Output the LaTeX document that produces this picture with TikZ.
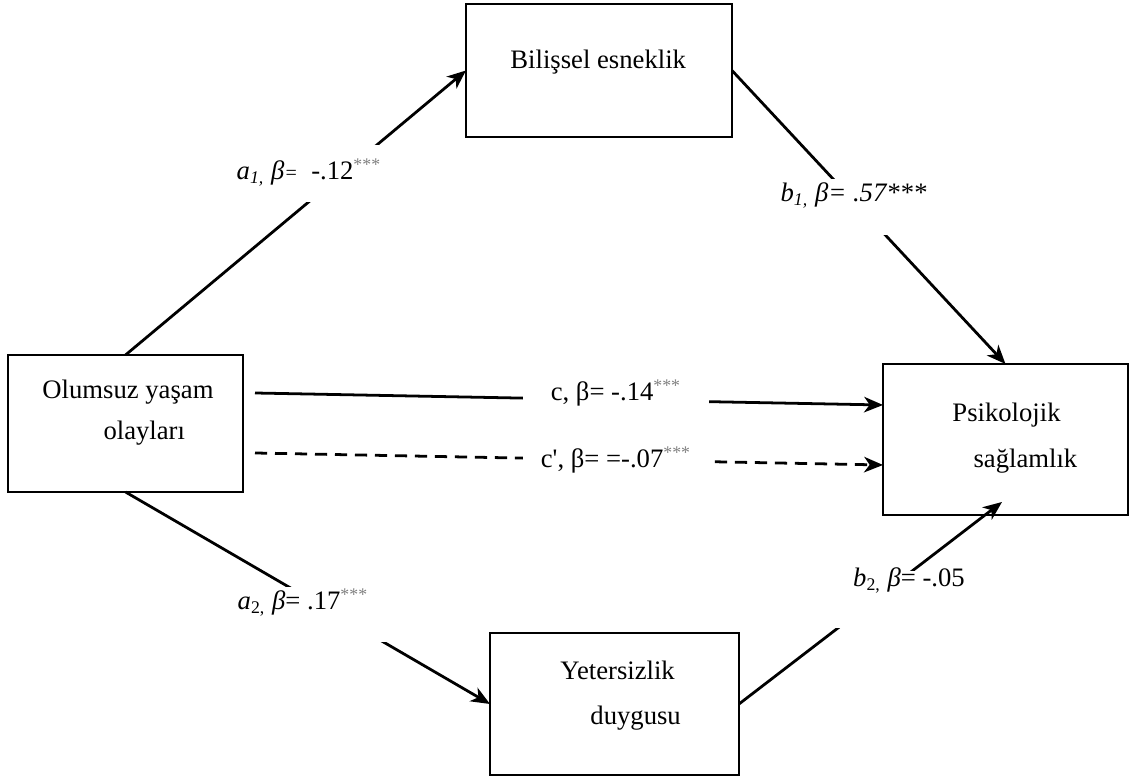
\documentclass[tikz,border=0pt]{standalone}
\usepackage{fontspec}
\setmainfont{Liberation Serif}
\usetikzlibrary{arrows.meta}

\begin{document}
\begin{tikzpicture}[
  x=0.45pt, y=-0.45pt,
  font=\fontsize{12}{14.4}\selectfont,
  box/.style={draw, line width=0.75pt, inner sep=0pt, outer sep=0pt},
  boxtext/.style={align=left, anchor=base west, inner sep=0pt},
  flow/.style={-{Stealth[length=8.5pt,width=7pt,inset=2.5pt]}, line width=1.25pt},
  dashflow/.style={flow, dash pattern=on 5.5pt off 3.5pt},
  coef/.style={fill=white, inner sep=0pt, anchor=base}]

\useasboundingbox (0,0) rectangle (1129,781);

% Position the boxes of the model
\node[box, minimum width=105.75pt, minimum height=61.65pt] (olumsuzYasam) at (125.5,423.5) {};
\node[box, minimum width=119.7pt, minimum height=59.85pt] (bilisselEsneklik) at (599,70.5) {};
\node[box, minimum width=110.25pt, minimum height=67.95pt] (psikolojikSaglamlik) at (1005.5,439.5) {};
\node[box, minimum width=112.05pt, minimum height=63.9pt] (yetersizlikDuygusu) at (614.5,704) {};

% texts sit on the baseline of their last line
\node[boxtext] (olumsuzYasamText) at (42,440) {Olumsuz yaşam\\[4.4pt]\hspace*{27.5pt}olayları};
\node[boxtext] (bilisselEsneklikText) at (510,69) {Bilişsel esneklik};
\node[boxtext] (psikolojikSaglamlikText) at (952,468) {Psikolojik\\[6.4pt]\hspace*{9.5pt}sağlamlık};
\node[boxtext] (yetersizlikDuygusuText) at (560,725) {Yetersizlik\\[5.9pt]\hspace*{13.5pt}duygusu};

% Draw the paths between the boxes
\draw [flow] (olumsuzYasam.north) -- (bilisselEsneklik.west);
\draw [flow] (bilisselEsneklik.east) -- (psikolojikSaglamlik.north);
\draw [flow] (olumsuzYasam.south) -- (yetersizlikDuygusu.west);
\draw [flow] (yetersizlikDuygusu.east) -- ([shift={(-3.5,-13)}]psikolojikSaglamlik.south);
\draw [flow] ([shift={(12,-30.5)}]olumsuzYasam.east) -- ([shift={(0,-34.5)}]psikolojikSaglamlik.west);
\draw [dashflow] ([shift={(12,29.5)}]olumsuzYasam.east) -- ([shift={(0,25.5)}]psikolojikSaglamlik.west);

% Coefficients, on white boxes over the paths
\node[coef, text height=15.75pt, text depth=9.9pt, minimum width=67.5pt] (coefA1) at (309,180)
  {\textit{a\textsubscript{1,} β{\small =}}\ \ -.12\textsuperscript{\textcolor{gray}{***}}};
\node[coef, text height=10.35pt, text depth=14.85pt, minimum width=70pt] (coefB1) at (853.5,202)
  {\textit{b\textsubscript{1,} β= .57***}};
\node[coef, text height=10.35pt, text depth=14.4pt, minimum width=79pt] (coefA2) at (303,610)
  {\textit{a}\textsubscript{2,} \textit{β}= .17\textsuperscript{\textcolor{gray}{***}}};
\node[coef, text height=7.2pt, text depth=18.45pt, minimum width=72pt] (coefB2) at (909,587)
  {\textit{b}\textsubscript{2,} \textit{β}= -.05};
\node[coef, text height=8pt, text depth=5pt, minimum width=83.7pt] (coefC) at (616,401)
  {c, β= -.14\textsuperscript{\textcolor{gray}{***}}};
\node[coef, text height=8pt, text depth=5pt, minimum width=83.7pt] (coefCprime) at (616,468)
  {c\textquotesingle, β= =-.07\textsuperscript{\textcolor{gray}{***}}};
\end{tikzpicture}
\end{document}
